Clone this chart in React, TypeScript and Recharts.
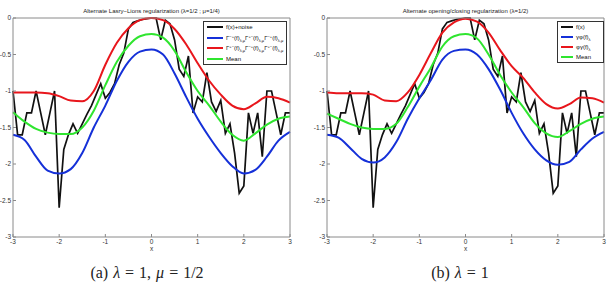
import React from 'react';
import { LineChart, Line, XAxis, YAxis, Legend, Label } from 'recharts';

// noisy signal, sampled every 0.1 on [-3, 3]
const noiseX = [
  -3, -2.9, -2.8, -2.7, -2.6, -2.5, -2.4, -2.3, -2.2, -2.1,
  -2, -1.9, -1.8, -1.7, -1.6, -1.5, -1.4, -1.3, -1.2, -1.1,
  -1, -0.9, -0.8, -0.7, -0.6, -0.5, -0.4, -0.3, -0.2, -0.1,
  0, 0.1, 0.2, 0.3, 0.4, 0.5, 0.6, 0.7, 0.8, 0.9,
  1, 1.1, 1.2, 1.3, 1.4, 1.5, 1.6, 1.7, 1.8, 1.9,
  2, 2.1, 2.2, 2.3, 2.4, 2.5, 2.6, 2.7, 2.8, 2.9,
  3,
];
const noisySignal = [
  -1.0, -1.6, -1.6, -1.3, -1.3, -1.0, -1.3, -1.6, -1.3, -1.0,
  -2.6, -1.8, -1.6, -1.45, -1.58, -1.45, -1.32, -1.2, -1.05, -0.9,
  -1.1, -1.02, -0.9, -0.64, -0.48, -0.15, -0.06, -0.04, -0.02, -0.01,
  0.0, 0.0, -0.3, -0.03, -0.08, -0.3, -0.7, -0.8, -0.52, -1.3,
  -1.08, -1.15, -0.75, -1.15, -1.28, -1.13, -1.58, -1.45, -1.85, -2.4,
  -2.3, -1.3, -1.58, -1.3, -1.9, -1.0, -1.0, -1.3, -1.6, -1.3,
  -1.3,
];

// regularized curves, sampled every 0.25
const smoothX = [
  -3, -2.75, -2.5, -2.25, -2, -1.75, -1.5, -1.25, -1, -0.75, -0.5, -0.25,
  0, 0.25, 0.5, 0.75, 1, 1.25, 1.5, 1.75, 2, 2.25, 2.5, 2.75, 3,
];

// Lasry-Lions (lambda=1/2, mu=1/4)
const llLower = [
  -1.6, -1.67, -1.9, -2.09, -2.13, -2.07, -1.85, -1.5, -1.2, -0.86, -0.6, -0.46,
  -0.43, -0.5, -0.76, -1.08, -1.38, -1.63, -1.85, -2.03, -2.13, -2.08, -1.9, -1.68, -1.56,
];
const llUpper = [
  -1.02, -1.02, -1.02, -1.03, -1.07, -1.13, -1.14, -1.0, -0.64, -0.34, -0.14, -0.03,
  0.0, -0.03, -0.15, -0.36, -0.62, -0.86, -1.05, -1.2, -1.25, -1.17, -1.08, -1.1, -1.16,
];
const llMean = [
  -1.29, -1.42, -1.52, -1.57, -1.59, -1.59, -1.5, -1.27, -0.92, -0.6, -0.38, -0.25,
  -0.22, -0.27, -0.45, -0.74, -1.0, -1.2, -1.42, -1.6, -1.68, -1.58, -1.46, -1.38, -1.35,
];

// opening / closing (lambda=1/2)
const ocLower = [
  -1.6, -1.64, -1.78, -1.93, -1.98, -1.91, -1.7, -1.38, -1.1, -0.85, -0.57, -0.45,
  -0.43, -0.5, -0.7, -0.98, -1.3, -1.58, -1.8, -1.95, -2.01, -1.97, -1.8, -1.65, -1.56,
];
const ocUpper = [
  -1.02, -1.03, -1.03, -1.03, -1.05, -1.13, -1.14, -1.02, -0.78, -0.48, -0.2, -0.06,
  -0.01, -0.05, -0.2, -0.44, -0.66, -0.82, -1.02, -1.18, -1.24, -1.18, -1.09, -1.1, -1.16,
];
const ocMean = [
  -1.31, -1.38, -1.45, -1.5, -1.52, -1.52, -1.45, -1.22, -0.94, -0.68, -0.39, -0.25,
  -0.22, -0.28, -0.5, -0.78, -1.02, -1.22, -1.44, -1.58, -1.63, -1.55, -1.45, -1.38, -1.35,
];

const xTicks = [-3, -2, -1, 0, 1, 2, 3];
const yTicks = [-3, -2.5, -2, -1.5, -1, -0.5, 0];

const SANS = '"Liberation Sans", Arial, Helvetica, sans-serif';
const AXIS = '#8a8a8a';
const BLACK = '#111111';
const BLUE = '#1530d8';
const RED = '#e8161c';
const GREEN = '#2fe52f';

const toPoints = (xs: number[], ys: number[]) => xs.map((x, i) => ({ x, y: ys[i] }));
const noisePoints = toPoints(noiseX, noisySignal);

const Sup = ({ children }: { children: React.ReactNode }) => (
  <span style={{ fontSize: 4, position: 'relative', top: -2 }}>{children}</span>
);
const Sub = ({ children }: { children: React.ReactNode }) => (
  <span style={{ fontSize: 4, position: 'relative', top: 2 }}>{children}</span>
);

const gamma = (s: string) => (
  <>
    Γ<Sup>{s}</Sup>(f)<Sub>λ,μ</Sub>
  </>
);

type Entry = { color: string; label: React.ReactNode };

function LegendBox({ entries, rowH, sample }: { entries: Entry[]; rowH: number; sample: number }) {
  return (
    <div style={{ border: '1px solid #333', background: '#fff', fontFamily: SANS, fontSize: 6, color: '#111' }}>
      {entries.map((e, i) => (
        <div key={i} style={{ display: 'flex', alignItems: 'center', height: rowH, lineHeight: 1, whiteSpace: 'nowrap' }}>
          <span style={{ display: 'inline-block', width: sample, height: 2, background: e.color, margin: '0 3px 0 3px' }} />
          <span>{e.label}</span>
        </div>
      ))}
    </div>
  );
}

type PanelProps = {
  title: string;
  entries: Entry[];
  legendStyle: React.CSSProperties;
  rowH: number;
  sample: number;
  lower: number[];
  upper: number[];
  mean: number[];
  marginLeft: number;
  marginRight: number;
};

function Panel({ title, entries, legendStyle, rowH, sample, lower, upper, mean, marginLeft, marginRight }: PanelProps) {
  const tickStyle = { fontSize: 6.5, fill: '#333', fontFamily: SANS };
  return (
    <LineChart width={305} height={260} margin={{ top: 17, right: marginRight, bottom: 3, left: marginLeft }}>
      <XAxis
        dataKey="x"
        type="number"
        domain={[-3, 3]}
        ticks={xTicks}
        interval={0}
        stroke={AXIS}
        tick={tickStyle}
        tickSize={-3}
        tickMargin={5}
        height={20}
      >
        <Label value="x" position="insideBottom" offset={6} style={{ fontSize: 6.5, fill: '#333', fontFamily: SANS }} />
      </XAxis>
      {/* top and right axes close the box; same domains as the main axes */}
      <XAxis
        xAxisId="top"
        orientation="top"
        dataKey="x"
        type="number"
        domain={[-3, 3]}
        ticks={xTicks}
        interval={0}
        stroke={AXIS}
        tick={false}
        tickSize={-3}
        height={1}
      >
        <Label value={title} position="top" offset={4} style={{ fontSize: 6, fill: '#222', fontFamily: SANS }} />
      </XAxis>
      <YAxis
        type="number"
        domain={[-3, 0]}
        ticks={yTicks}
        interval={0}
        stroke={AXIS}
        tick={tickStyle}
        tickSize={-3}
        tickMargin={5}
        width={13}
      />
      <YAxis
        yAxisId="right"
        orientation="right"
        type="number"
        domain={[-3, 0]}
        ticks={yTicks}
        interval={0}
        stroke={AXIS}
        tick={false}
        tickSize={-3}
        width={1}
      />
      <Legend
        layout="vertical"
        align="center"
        verticalAlign="middle"
        wrapperStyle={legendStyle}
        content={() => <LegendBox entries={entries} rowH={rowH} sample={sample} />}
      />
      <Line
        data={noisePoints}
        dataKey="y"
        xAxisId="top"
        yAxisId="right"
        type="linear"
        stroke={BLACK}
        strokeWidth={1.7}
        dot={false}
        isAnimationActive={false}
      />
      <Line data={toPoints(smoothX, lower)} dataKey="y" type="monotone" stroke={BLUE} strokeWidth={2} dot={false} isAnimationActive={false} />
      <Line data={toPoints(smoothX, upper)} dataKey="y" type="monotone" stroke={RED} strokeWidth={2} dot={false} isAnimationActive={false} />
      <Line data={toPoints(smoothX, mean)} dataKey="y" type="monotone" stroke={GREEN} strokeWidth={2} dot={false} isAnimationActive={false} />
    </LineChart>
  );
}

const lasryEntries: Entry[] = [
  { color: BLACK, label: 'f(x)+noise' },
  { color: BLUE, label: <>{gamma('−+')}{gamma('+−')}{gamma('−+')}</> },
  { color: RED, label: <>{gamma('+−')}{gamma('−+')}{gamma('+−')}</> },
  { color: GREEN, label: 'Mean' },
];

const ocEntries: Entry[] = [
  { color: BLACK, label: 'f(x)' },
  { color: BLUE, label: <>γφ(f)<Sub>λ</Sub></> },
  { color: RED, label: <>φγ(f)<Sub>λ</Sub></> },
  { color: GREEN, label: 'Mean' },
];

const captionStyle: React.CSSProperties = {
  position: 'absolute',
  top: 264,
  fontFamily: '"Liberation Serif", "Times New Roman", serif',
  fontSize: 16,
  lineHeight: '18px',
  wordSpacing: 1,
  color: '#222',
  textAlign: 'center',
  whiteSpace: 'nowrap',
};

export default function App() {
  return (
    <div style={{ position: 'absolute', left: 0, top: 0, width: 610, height: 286, background: '#fff', overflow: 'hidden' }}>
      <div style={{ position: 'absolute', left: 0, top: 0 }}>
        <Panel
          title="Alternate Lasry−Lions regularization (λ=1/2 ; μ=1/4)"
          entries={lasryEntries}
          legendStyle={{ top: 21, left: 203, width: 84 }}
          rowH={10.5}
          sample={16}
          lower={llLower}
          upper={llUpper}
          mean={llMean}
          marginLeft={0}
          marginRight={14}
        />
      </div>
      <div style={{ position: 'absolute', left: 305, top: 0 }}>
        <Panel
          title="Alternate opening/closing regularization (λ=1/2)"
          entries={ocEntries}
          legendStyle={{ top: 21, left: 252, width: 47 }}
          rowH={10}
          sample={12}
          lower={ocLower}
          upper={ocUpper}
          mean={ocMean}
          marginLeft={9}
          marginRight={5}
        />
      </div>
      <div style={{ ...captionStyle, left: 0, width: 294 }}>
        (a) <i>λ</i> = 1, <i>μ</i> = 1/2
      </div>
      <div style={{ ...captionStyle, left: 390, width: 140 }}>
        (b) <i>λ</i> = 1
      </div>
    </div>
  );
}
